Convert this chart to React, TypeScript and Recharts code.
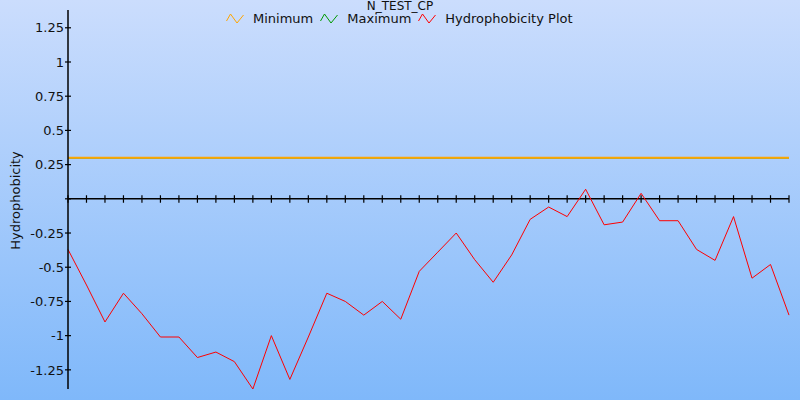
import { LineChart, Line, XAxis, YAxis } from "recharts"

// residue positions along the sequence
const positions = [
    1, 2, 3, 4, 5, 6, 7, 8, 9, 10, 11, 12, 13, 14, 15, 16, 17, 18, 19, 20,
    21, 22, 23, 24, 25, 26, 27, 28, 29, 30, 31, 32, 33, 34, 35, 36, 37, 38, 39, 40,
]

const hydrophobicity = [
    -0.37, -0.63, -0.9, -0.69, -0.84, -1.01, -1.01, -1.16, -1.12, -1.19,
    -1.39, -1.0, -1.32, -1.01, -0.69, -0.75, -0.85, -0.75, -0.88, -0.53,
    -0.39, -0.25, -0.445, -0.61, -0.41, -0.15, -0.06, -0.13, 0.07, -0.19,
    -0.17, 0.04, -0.16, -0.16, -0.37, -0.45, -0.13, -0.58, -0.48, -0.85,
]

const minimum = 0.3
const maximum = 0.3

const yTicks = [-1.25, -1, -0.75, -0.5, -0.25, 0, 0.25, 0.5, 0.75, 1, 1.25]

const data = positions.map((pos, i) => ({
    pos,
    value: hydrophobicity[i],
    min: minimum,
    max: maximum,
    zero: 0,
}))

const FONT = "'DejaVu Sans', Verdana, sans-serif"

const legendItems = [
    { name: "Minimum", color: "#ffa500" },
    { name: "Maximum", color: "#009900" },
    { name: "Hydrophobicity Plot", color: "#ff0000" },
]

function Zigzag({ color }: { color: string }) {
    return (
        <svg width={18} height={12} style={{ display: "block" }}>
            <polyline points="0.5,8 4.5,1 11,10 17.5,2" fill="none" stroke={color} strokeWidth={1} />
        </svg>
    )
}

function YTick(props: any) {
    const { x, y, payload } = props
    return (
        <g>
            <line x1={x + 1} x2={x + 7} y1={y} y2={y} stroke="#000" strokeWidth={1.2} />
            {payload.value !== 0 && (
                <text x={x} y={y} dy="0.36em" textAnchor="end" fontSize={13} fontFamily={FONT} fill="#111">
                    {payload.value}
                </text>
            )}
        </g>
    )
}

function YLabel(props: any) {
    const { viewBox } = props
    const cx = 15
    const cy = viewBox.y + viewBox.height / 2 + 1
    return (
        <text
            x={cx}
            y={cy}
            transform={`rotate(-90, ${cx}, ${cy})`}
            textAnchor="middle"
            dominantBaseline="central"
            fontSize={13}
            fontFamily={FONT}
            fill="#111"
        >
            Hydrophobicity
        </text>
    )
}

function ZeroTick(props: any) {
    const { cx, cy, index } = props
    return <line key={index} x1={cx} x2={cx} y1={cy - 3.5} y2={cy + 4} stroke="#000" strokeWidth={1.2} />
}

export default function App() {
    return (
        <div
            style={{
                position: "relative",
                width: 800,
                height: 400,
                background: "linear-gradient(#cbddfd, #7fb8fa)",
                fontFamily: FONT,
                overflow: "hidden",
            }}
        >
            <style>{`body { margin: 0; }`}</style>
            <div
                style={{
                    position: "absolute",
                    top: 0,
                    left: 0,
                    width: 800,
                    textAlign: "center",
                    fontSize: 12,
                    lineHeight: "12px",
                    color: "#111",
                }}
            >
                N_TEST_CP
            </div>
            <div
                style={{
                    position: "absolute",
                    top: 12,
                    left: 226,
                    display: "flex",
                    alignItems: "center",
                    fontSize: 13,
                    color: "#111",
                    lineHeight: "14px",
                }}
            >
                {legendItems.map((item) => (
                    <div key={item.name} style={{ display: "flex", alignItems: "center", marginRight: 7 }}>
                        <Zigzag color={item.color} />
                        <span style={{ marginLeft: 9 }}>{item.name}</span>
                    </div>
                ))}
            </div>
            <LineChart
                width={800}
                height={400}
                data={data}
                margin={{ top: 10, right: 11, bottom: 11, left: 0 }}
                style={{ position: "absolute", top: 0, left: 0 }}
            >
                <XAxis dataKey="pos" hide />
                <YAxis
                    width={68}
                    domain={[-1.39, 1.38]}
                    ticks={yTicks}
                    interval={0}
                    tickSize={3}
                    tickMargin={1}
                    tickLine={false}
                    tick={<YTick />}
                    axisLine={{ stroke: "#000", strokeWidth: 1.5 }}
                    allowDataOverflow
                    label={<YLabel />}
                />
                <Line
                    dataKey="zero"
                    stroke="#000"
                    strokeWidth={1.5}
                    dot={<ZeroTick />}
                    activeDot={false}
                    isAnimationActive={false}
                    legendType="none"
                />
                <Line
                    dataKey="max"
                    name="Maximum"
                    stroke="#009900"
                    strokeWidth={1.5}
                    dot={false}
                    isAnimationActive={false}
                />
                <Line
                    dataKey="min"
                    name="Minimum"
                    stroke="#ffa500"
                    strokeWidth={1.8}
                    dot={false}
                    isAnimationActive={false}
                />
                <Line
                    dataKey="value"
                    name="Hydrophobicity Plot"
                    stroke="#ff0000"
                    strokeWidth={1}
                    dot={false}
                    isAnimationActive={false}
                />
            </LineChart>
        </div>
    )
}
